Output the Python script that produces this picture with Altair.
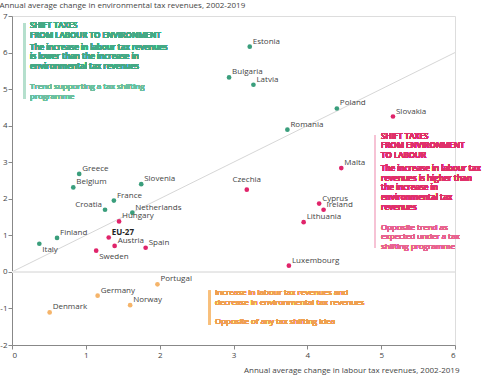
import altair as alt
import pandas as pd

countries = ["Estonia", "Bulgaria", "Latvia", "Poland", "Slovakia", "Romania", "Malta",
             "Czechia", "Cyprus", "Ireland", "Lithuania", "Luxembourg", "Greece", "Belgium",
             "Slovenia", "France", "Croatia", "Netherlands", "Hungary", "Finland", "EU-27",
             "Italy", "Austria", "Spain", "Sweden", "Portugal", "Germany", "Norway", "Denmark"]
labour = [3.22, 2.94, 3.27, 4.40, 5.16, 3.73, 4.46,
          3.18, 4.16, 4.22, 3.95, 3.75, 0.91, 0.83,
          1.75, 1.38, 1.26, 1.63, 1.45, 0.61, 1.31,
          0.37, 1.39, 1.81, 1.14, 1.97, 1.16, 1.60, 0.51]
environment = [6.16, 5.32, 5.12, 4.47, 4.25, 3.89, 2.84,
               2.25, 1.87, 1.70, 1.36, 0.17, 2.68, 2.31,
               2.40, 1.95, 1.70, 1.62, 1.38, 0.93, 0.94,
               0.77, 0.71, 0.66, 0.58, -0.34, -0.65, -0.91, -1.11]
groups = ["green", "green", "green", "green", "pink", "green", "pink",
          "pink", "pink", "pink", "pink", "pink", "green", "green",
          "green", "green", "green", "green", "pink", "green", "pink",
          "green", "pink", "pink", "pink", "orange", "orange", "orange", "orange"]
placement = ["ur", "ur", "ur", "ur", "ur", "ur", "ur",
             "u", "ur", "ur", "ur", "ur", "ur", "ur",
             "ur", "ur", "ul", "ur", "ur", "ur", "bold",
             "dr", "ur", "ur", "dr", "ur", "ur", "ur", "ur"]

x_ticks = [0, 1, 2, 3, 4, 5, 6]
y_ticks = [-2, -1, 0, 1, 2, 3, 4, 5, 6, 7]
diag = [0, 6]

green_head = ["SHIFT TAXES", "FROM LABOUR TO ENVIRONMENT"]
green_bold = ["The increase in labour tax revenues", "is lower than the increase in",
              "environmental tax revenues"]
green_note = ["Trend supporting a tax shifting", "programme"]
pink_head = ["SHIFT TAXES", "FROM ENVIRONMENT", "TO LABOUR"]
pink_bold = ["The increase in labour tax", "revenues is higher than", "the increase in",
             "environmental tax", "revenues"]
pink_note = ["Opposite trend as", "expected under a tax", "shifting programme"]
orange_head = ["Increase in labour tax revenues and", "decrease in environmental tax revenues"]
orange_note = ["Opposite of any tax shifting idea"]

df = pd.DataFrame({"country": countries, "x": labour, "y": environment,
                   "group": groups, "place": placement})
diag_df = pd.DataFrame({"x": diag, "y": diag})

FONT = "Open Sans"
FS = 8
GREEN = "#3a9e7c"
PINK = "#e0246a"
ORANGE = "#f5b46a"

xs = alt.Scale(domain=[0, 6], nice=False)
ys = alt.Scale(domain=[-2, 7], nice=False)

axis_common = dict(titleFontWeight="normal", titleFontSize=FS, titleFont=FONT, titleColor="#444",
                   labelFontSize=FS, labelFont=FONT, labelColor="#444", tickSize=4,
                   domainColor="#888", tickColor="#888", grid=False,
                   labelOverlap=False, labelExpr="datum.value + ''", titleBaseline="middle")
x_axis = alt.Axis(values=x_ticks, title="Annual average change in labour tax revenues, 2002-2019",
                  titleX=447, titleY=25, titleAlign="right", labelPadding=2, **axis_common)
y_axis = alt.Axis(values=y_ticks, title="Annual average change in environmental tax revenues, 2002-2019",
                  titleAngle=0, titleX=-13, titleY=-11, titleAlign="left", labelPadding=1,
                  **axis_common)

base = alt.Chart(df)

diag_line = alt.Chart(diag_df).mark_line(color="#cccccc", strokeWidth=0.8).encode(
    x=alt.X("x:Q", scale=xs, axis=x_axis),
    y=alt.Y("y:Q", scale=ys, axis=y_axis))

zero = alt.Chart(df).mark_rule(color="#e8e8e8", strokeWidth=1).encode(
    y=alt.datum(0, scale=ys, axis=y_axis))

points = base.mark_circle(size=22, opacity=1).encode(
    x=alt.X("x:Q", scale=xs, axis=x_axis),
    y=alt.Y("y:Q", scale=ys, axis=y_axis),
    color=alt.Color("group:N", scale=alt.Scale(domain=["green", "pink", "orange"],
                                               range=[GREEN, PINK, ORANGE]), legend=None))

place_style = {
    "ur": dict(align="left", dx=3, dy=-5),
    "dr": dict(align="left", dx=3, dy=6),
    "ul": dict(align="right", dx=-3, dy=-5),
    "u": dict(align="center", dx=0, dy=-10),
}
labels = []
for p, st in place_style.items():
    labels.append(base.transform_filter(alt.datum.place == p).mark_text(
        baseline="middle", font=FONT, fontSize=FS, color="#444", **st).encode(
        x=alt.X("x:Q", scale=xs, axis=x_axis), y=alt.Y("y:Q", scale=ys, axis=y_axis),
        text="country:N"))
labels.append(base.transform_filter(alt.datum.place == "bold").mark_text(
    baseline="middle", font=FONT, fontSize=FS, fontWeight="bold", color="#222",
    align="left", dx=3, dy=-5).encode(
    x=alt.X("x:Q", scale=xs, axis=x_axis), y=alt.Y("y:Q", scale=ys, axis=y_axis),
    text="country:N"))

LH = 9.7


def block(lines, x, y0, color, weight="normal"):
    out = []
    for i, line in enumerate(lines):
        out.append(alt.Chart(df).mark_text(
            align="left", baseline="middle", font=FONT, fontSize=FS,
            color=color, fontWeight=weight).encode(
            x=alt.value(x), y=alt.value(y0 + i * LH), text=alt.value(line)))
    return out


def bar(x, y1, y2, color):
    return [alt.Chart(df).mark_rule(color=color, strokeWidth=2).encode(
        x=alt.value(x), y=alt.value(y1), y2=alt.value(y2))]


annots = (
    bar(12.3, 7, 83, "#b5dfcd")
    + block(green_head, 18, 10, "#44a985", 600)
    + block(green_bold, 18, 31.7, "#44a985", 600)
    + block(green_note, 18, 71, "#6cbf9f")
    + bar(363, 119, 232, "#f6c3d5")
    + block(pink_head, 369, 120.7, "#e0306a", 600)
    + block(pink_bold, 369, 153, "#e0306a", 600)
    + block(pink_note, 369, 211.7, "#e8638f")
    + bar(197.7, 274.7, 309, "#f7bf7c")
    + block(orange_head, 203, 277.3, "#f0a050")
    + block(orange_note, 203, 306, "#f0a050")
)

chart = alt.layer(diag_line, zero, points, *labels, *annots).properties(
    width=443, height=329,
    padding={"left": 12, "top": 16, "right": 45, "bottom": 32},
    autosize=alt.AutoSizeParams(type="none"),
).configure_view(stroke=None).configure(background="white")

chart.save("out.html", embed_options={"renderer": "svg", "actions": False})
